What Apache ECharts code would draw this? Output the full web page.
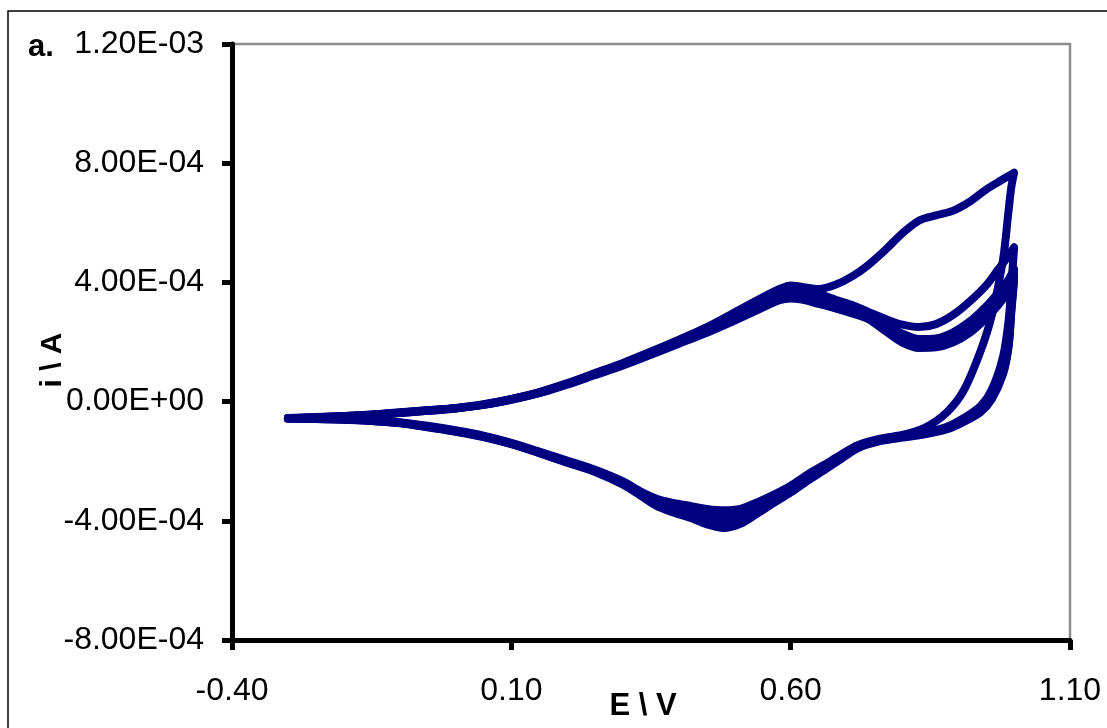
<!DOCTYPE html>
<html>
<head>
<meta charset="utf-8">
<title>CV</title>
<script src="https://cdn.jsdelivr.net/npm/echarts@6/dist/echarts.min.js"></script>
<style>
  html, body { margin: 0; padding: 0; background: #fff; }
  #chart { width: 1107px; height: 728px; }
</style>
</head>
<body>
<div id="chart"></div>
<script>
// potential grids (V) for the forward and reverse sweeps
const eAnodic = [-0.30, -0.25, -0.20, -0.15, -0.10, -0.05, 0.00, 0.05, 0.10, 0.15, 0.20, 0.25, 0.30, 0.35,
  0.40, 0.45, 0.50, 0.55, 0.58, 0.60, 0.62, 0.65, 0.68, 0.71, 0.74, 0.77, 0.80, 0.83, 0.86, 0.89, 0.92,
  0.95, 0.97, 0.99, 1.00];
const eCathodic = [0.995, 0.99, 0.98, 0.96, 0.94, 0.91, 0.88, 0.84, 0.80, 0.76, 0.72, 0.69, 0.66, 0.63,
  0.60, 0.57, 0.54, 0.51, 0.48, 0.45, 0.42, 0.39, 0.36, 0.33, 0.30, 0.25, 0.20, 0.15, 0.10, 0.05, 0.00,
  -0.05, -0.10, -0.15, -0.20, -0.25, -0.30];

// currents in microampere
const cycle1Anodic = [-56, -53, -49, -44, -37, -29, -21, -9, 9, 32, 62, 96, 130, 168, 208, 250, 300, 350,
  378, 390, 385, 378, 392, 420, 460, 510, 565, 608, 625, 640, 670, 712, 735, 757, 768];
const cycle1Cathodic = [720, 640, 475, 290, 170, 38, -35, -88, -112, -124, -146, -178, -212, -245, -282,
  -312, -338, -360, -365, -360, -350, -340, -326, -300, -268, -229, -198, -168, -138, -114, -96, -81,
  -69, -62, -58, -56, -55];

const cycle2Anodic = [-55, -52, -48, -43, -36, -29, -22, -10, 8, 31, 60, 94, 128, 166, 205, 246, 296, 345,
  375, 386, 382, 362, 342, 324, 300, 277, 258, 250, 260, 290, 335, 390, 440, 490, 518];
const cycle2Cathodic = [390, 270, 150, 40, -15, -55, -84, -103, -114, -126, -148, -181, -216, -250, -287,
  -318, -348, -375, -382, -376, -362, -350, -334, -305, -272, -232, -201, -170, -140, -116, -98, -83,
  -70, -63, -59, -57, -56];

const cycle3Anodic = [-56, -53, -49, -44, -37, -30, -22, -10, 8, 30, 60, 93, 127, 164, 202, 242, 287, 333,
  358, 366, 360, 343, 327, 310, 290, 258, 228, 210, 212, 232, 268, 320, 362, 410, 445];
const cycle3Cathodic = [330, 200, 105, 18, -28, -62, -88, -106, -117, -129, -151, -185, -220, -255, -292,
  -325, -357, -388, -398, -390, -372, -358, -340, -308, -275, -233, -202, -171, -141, -117, -99, -84,
  -71, -64, -60, -57, -56];

const cycle4Anodic = [-57, -54, -50, -45, -38, -31, -23, -11, 7, 29, 59, 91, 124, 160, 198, 236, 278, 322,
  345, 352, 347, 333, 318, 302, 282, 246, 212, 195, 196, 214, 248, 300, 340, 390, 425];
const cycle4Cathodic = [310, 190, 98, 12, -32, -65, -91, -108, -119, -131, -154, -189, -225, -261, -299,
  -333, -367, -400, -412, -402, -382, -366, -345, -311, -277, -235, -204, -172, -142, -118, -100, -85,
  -72, -65, -60, -58, -57];

const cycle5Anodic = [-57, -54, -50, -45, -38, -31, -23, -11, 6, 28, 57, 89, 121, 157, 194, 231, 272, 315,
  340, 346, 342, 328, 313, 296, 276, 236, 198, 180, 182, 198, 230, 280, 320, 370, 405];
const cycle5Cathodic = [300, 182, 92, 8, -35, -68, -93, -110, -121, -133, -157, -193, -230, -266, -305,
  -340, -376, -410, -424, -412, -390, -372, -350, -314, -279, -236, -205, -173, -143, -119, -101, -86,
  -73, -65, -61, -58, -57];

const cycles = [
  [cycle1Anodic, cycle1Cathodic],
  [cycle2Anodic, cycle2Cathodic],
  [cycle3Anodic, cycle3Cathodic],
  [cycle4Anodic, cycle4Cathodic],
  [cycle5Anodic, cycle5Cathodic]
];

function toPoints(an, ca) {
  let pts = [];
  eAnodic.forEach((e, k) => pts.push([e, an[k] * 1e-6]));
  eCathodic.forEach((e, k) => pts.push([e, ca[k] * 1e-6]));
  return pts;
}

// 1.20E-03 style labels
function sci(v) {
  if (Math.abs(v) < 1e-12) return '0.00E+00';
  let parts = v.toExponential(2).split('e');
  let ex = parseInt(parts[1], 10);
  let sign = ex < 0 ? '-' : '+';
  let digits = String(Math.abs(ex)).padStart(2, '0');
  return parts[0] + 'E' + sign + digits;
}

let myChart = echarts.init(document.getElementById('chart'));
let series = cycles.map((c, idx) => ({
  name: 'cycle ' + (idx + 1),
  type: 'line',
  data: toPoints(c[0], c[1]),
  showSymbol: false,
  smooth: 0.3,
  lineStyle: { color: '#000080', width: 8, cap: 'round', join: 'round' },
  z: 5
}));

let option = {
  animation: false,
  backgroundColor: '#fff',
  grid: {
    left: 232,
    right: 37,
    top: 44,
    bottom: 88,
    show: true,
    borderColor: '#8c8c8c',
    borderWidth: 2.5,
    containLabel: false
  },
  xAxis: {
    type: 'value',
    min: -0.4,
    max: 1.1,
    interval: 0.5,
    axisLine: { show: true, onZero: false, lineStyle: { color: '#000', width: 5 } },
    axisTick: { show: true, inside: false, length: 10, lineStyle: { color: '#000', width: 5 } },
    splitLine: { show: false },
    axisLabel: {
      margin: 35,
      color: '#000',
      fontFamily: 'Liberation Sans',
      fontSize: 32,
      formatter: function (v) { return v.toFixed(2); }
    }
  },
  yAxis: {
    type: 'value',
    min: -8e-4,
    max: 1.2e-3,
    interval: 4e-4,
    axisLine: { show: true, onZero: false, lineStyle: { color: '#000', width: 5 } },
    axisTick: { show: true, inside: false, length: 10, lineStyle: { color: '#000', width: 5 } },
    splitLine: { show: false },
    axisLabel: {
      margin: 28,
      color: '#000',
      fontFamily: 'Liberation Sans',
      fontSize: 32,
      formatter: sci
    }
  },
  graphic: [
    {
      type: 'rect',
      shape: { x: 8, y: 11, width: 1200, height: 800 },
      style: { fill: 'none', stroke: '#000', lineWidth: 1.5 },
      silent: true
    },
    {
      type: 'text',
      x: 41,
      y: 47,
      style: {
        text: 'a.',
        fontSize: 31,
        fontWeight: 'bold',
        fontFamily: 'Liberation Sans',
        fill: '#000',
        align: 'center',
        verticalAlign: 'middle'
      }
    },
    {
      type: 'text',
      x: 53,
      y: 360,
      rotation: Math.PI / 2,
      style: {
        text: 'i \\ A',
        fontSize: 30,
        fontWeight: 'bold',
        fontFamily: 'Liberation Sans',
        fill: '#000',
        align: 'center',
        verticalAlign: 'middle'
      }
    },
    {
      type: 'text',
      x: 643,
      y: 706,
      style: {
        text: 'E \\ V',
        fontSize: 31,
        fontWeight: 'bold',
        fontFamily: 'Liberation Sans',
        fill: '#000',
        align: 'center',
        verticalAlign: 'middle'
      }
    }
  ],
  series: series
};
myChart.setOption(option);
window.addEventListener('resize', function () {
  myChart.resize();
});
</script>
</body>
</html>
